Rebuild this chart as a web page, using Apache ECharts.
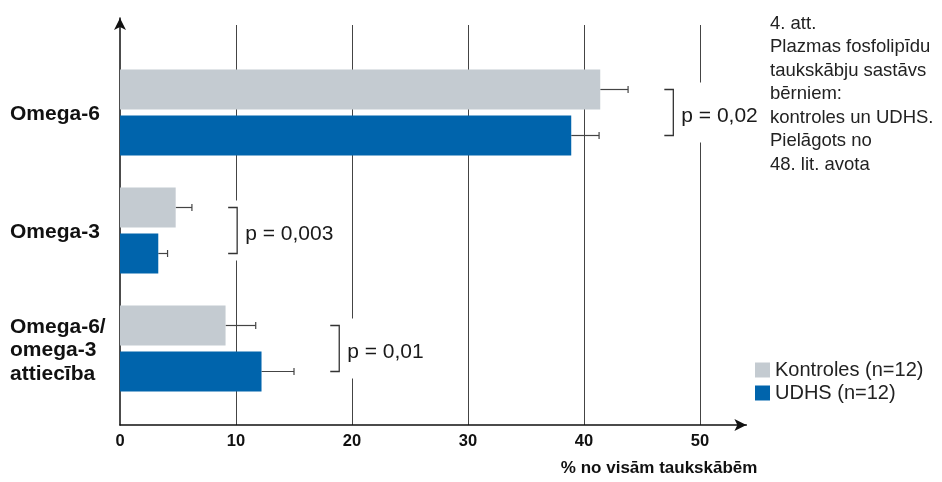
<!DOCTYPE html>
<html><head><meta charset="utf-8">
<script src="https://cdn.jsdelivr.net/npm/echarts@6/dist/echarts.min.js"></script>
<style>html,body{margin:0;padding:0;background:#fff}#c{width:942px;height:482px}</style>
</head><body><div id="c"></div>
<script>
const categories = ['Omega-6', 'Omega-3', 'Omega-6/\nomega-3\nattiecība'];
const controlValues = [41.4, 4.8, 9.1];
const controlErrors = [2.4, 1.4, 2.6];
const udhsValues = [38.9, 3.3, 12.2];
const udhsErrors = [2.4, 0.8, 2.8];
const pLabels = ['p = 0,02', 'p = 0,003', 'p = 0,01'];
const pBracketX = [47.7, 10.1, 18.9];
const seriesNames = ['Kontroles (n=12)', 'UDHS (n=12)'];
const xMin = 0, xMax = 54, xInterval = 10;
const axisName = '% no visām taukskābēm';
const noteLines = ['4. att.', 'Plazmas fosfolipīdu', 'taukskābju sastāvs', 'bērniem:', 'kontroles un UDHS.', 'Pielāgots no', '48. lit. avota'];

const FONT = "'Liberation Sans', Arial, Helvetica, sans-serif";
const GRAY = '#C4CBD1', BLUE = '#0064AC';
const BAR_W = 40, BAR_GAP = 6;
const L = 120, R = 195.6;

const chart = echarts.init(document.getElementById('c'), null, {renderer: 'canvas'});

function errItem(sign) {
  return function (params, api) {
    const cat = api.value(2);
    const a = api.coord([api.value(0), cat]);
    const b = api.coord([api.value(1), cat]);
    const y = a[1] + sign * (BAR_W + BAR_GAP) / 2;
    return {type: 'group', children: [
      {type: 'line', shape: {x1: a[0], y1: y, x2: b[0], y2: y}, style: {stroke: '#444', lineWidth: 1.2}},
      {type: 'line', shape: {x1: b[0], y1: y - 3.5, x2: b[0], y2: y + 3.5}, style: {stroke: '#444', lineWidth: 1.2}}
    ]};
  };
}

function bracketItem(params, api) {
  const p = api.coord([api.value(0), api.value(1)]);
  const h = (BAR_W + BAR_GAP) / 2;
  const x = p[0], y = p[1];
  return {type: 'group', children: [
    {type: 'rect', shape: {x: x - 12, y: y - 30, width: 100, height: 60}, style: {fill: '#fff'}},
    {type: 'polyline', shape: {points: [[x - 9, y - h], [x, y - h], [x, y + h], [x - 9, y + h]]},
      style: {stroke: '#333', lineWidth: 1.3, fill: null}},
    {type: 'text', style: {text: pLabels[params.dataIndex], x: x + 8, y: y + 4, fill: '#1a1a1a',
      font: '21px ' + FONT, verticalAlign: 'middle', align: 'left'}}
  ]};
}

const ctrlErrData = controlValues.map((v, i) => [v, v + controlErrors[i], i]);
const udhsErrData = udhsValues.map((v, i) => [v, v + udhsErrors[i], i]);
const bracketData = pBracketX.map((v, i) => [v, i]);

const gridBase = {left: L, right: R, containLabel: false, outerBoundsMode: 'none'};

const option = {
  animation: false,
  backgroundColor: '#fff',
  textStyle: {fontFamily: FONT},
  grid: [
    Object.assign({top: 18, bottom: 57}, gridBase),
    Object.assign({top: 25, bottom: 57}, gridBase),
    Object.assign({top: 53.5, bottom: 74.5}, gridBase)
  ],
  xAxis: [
    {gridIndex: 0, type: 'value', min: xMin, max: xMax, interval: xInterval,
      axisLine: {show: true, symbol: ['none', 'arrow'], symbolSize: [9, 12], lineStyle: {color: '#111', width: 1.5}},
      axisTick: {show: false}, splitLine: {show: false},
      axisLabel: {show: true, margin: 8, showMaxLabel: false, fontWeight: 'bold', fontSize: 16.5, color: '#111', fontFamily: FONT,
        formatter: v => (v % xInterval === 0 ? String(v) : '')},
      name: axisName, nameLocation: 'end', nameGap: 11,
      nameTextStyle: {fontWeight: 'bold', fontSize: 17, color: '#111', fontFamily: FONT, align: 'right', verticalAlign: 'top', padding: [35, 0, 0, 0]}
    },
    {gridIndex: 1, type: 'value', min: xMin, max: xMax, interval: xInterval,
      axisLine: {show: false}, axisTick: {show: false}, axisLabel: {show: false},
      splitLine: {show: true, showMinLine: false, showMaxLine: false, lineStyle: {color: '#444', width: 1}}
    },
    {gridIndex: 2, type: 'value', min: xMin, max: xMax, interval: xInterval, show: false, splitLine: {show: false}}
  ],
  yAxis: [
    {gridIndex: 0, type: 'value', min: 0, max: 1,
      axisLine: {show: true, symbol: ['none', 'arrow'], symbolSize: [9, 12], lineStyle: {color: '#111', width: 1.5}},
      axisTick: {show: false}, axisLabel: {show: false}, splitLine: {show: false}},
    {gridIndex: 1, type: 'value', min: 0, max: 1, show: false, splitLine: {show: false}},
    {gridIndex: 2, type: 'category', inverse: true, data: categories,
      axisLine: {show: false}, axisTick: {show: false}, splitLine: {show: false},
      axisLabel: {show: true, align: 'left', margin: 110, color: '#111',
        formatter: (v, i) => v.split('\n').map(s => '{' + (i === 2 ? 'm' : 's') + '|' + s + '}').join('\n'),
        rich: {
          s: {fontWeight: 'bold', fontSize: 21, lineHeight: 23.5, color: '#111', fontFamily: FONT, padding: [4, 0, 0, 0]},
          m: {fontWeight: 'bold', fontSize: 21, lineHeight: 23.5, color: '#111', fontFamily: FONT, padding: [4, 0, 0, 0]}
        }}}
  ],
  legend: {
    data: seriesNames, orient: 'vertical', left: 755, top: 360, padding: 0,
    itemWidth: 15, itemHeight: 15, itemGap: 3, icon: 'rect',
    textStyle: {fontSize: 20, color: '#222', fontFamily: FONT, lineHeight: 15}
  },
  graphic: [
    {type: 'text', left: 770, top: 12, style: {text: noteLines.join('\n'), font: '18.5px ' + FONT, lineHeight: 23.5, fill: '#222'}}
  ],
  series: [
    {name: seriesNames[0], type: 'bar', xAxisIndex: 2, yAxisIndex: 2, data: controlValues,
      barWidth: BAR_W, barGap: (BAR_GAP / BAR_W * 100) + '%', itemStyle: {color: GRAY}, z: 3},
    {name: seriesNames[1], type: 'bar', xAxisIndex: 2, yAxisIndex: 2, data: udhsValues,
      barWidth: BAR_W, barGap: (BAR_GAP / BAR_W * 100) + '%', itemStyle: {color: BLUE}, z: 3},
    {name: 'errCtrl', type: 'custom', xAxisIndex: 2, yAxisIndex: 2, data: ctrlErrData,
      encode: {x: [0, 1], y: 2}, renderItem: errItem(-1), z: 2},
    {name: 'errUdhs', type: 'custom', xAxisIndex: 2, yAxisIndex: 2, data: udhsErrData,
      encode: {x: [0, 1], y: 2}, renderItem: errItem(1), z: 2},
    {name: 'brackets', type: 'custom', xAxisIndex: 2, yAxisIndex: 2, data: bracketData,
      encode: {x: 0, y: 1}, renderItem: bracketItem, z: 4}
  ]
};
chart.setOption(option);
</script>
</body></html>
